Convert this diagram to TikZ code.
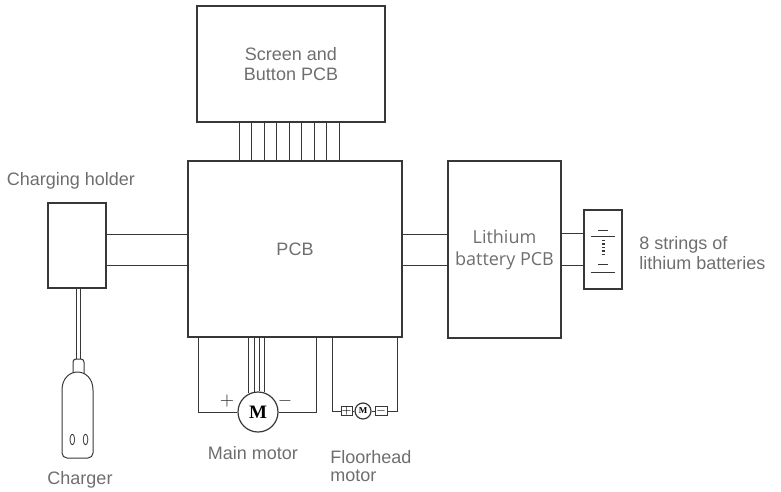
\documentclass[tikz,border=0pt]{standalone}
\usepackage{fontspec}
\setsansfont{Liberation Sans}
\newfontfamily\lithfont{Open Sans}
\newfontfamily\motorfont{Liberation Serif}
\usetikzlibrary{positioning}
\definecolor{linegray}{RGB}{55,55,55}
\definecolor{textgray}{RGB}{110,110,110}
\tikzstyle{box} = [rectangle, draw = linegray, line width = 0.6pt, inner sep = 0pt, text = textgray, font = \sffamily\fontsize{9}{10}\selectfont, align = center]
\tikzstyle{caption} = [text = textgray, font = \sffamily\fontsize{9}{10}\selectfont, align = center, inner sep = 0pt]
\tikzstyle{wire} = [draw = linegray, line width = 0.5pt]
\tikzstyle{motor} = [circle, draw = linegray, line width = 0.6pt, inner sep = 0pt, font = \motorfont\bfseries]
\tikzstyle{terminal} = [rectangle, draw = linegray, line width = 0.45pt, minimum height = 4pt, inner sep = 0pt, font = \fontsize{4}{4}\selectfont]

\begin{document}
\begin{tikzpicture}[x = 0.5pt, y = -0.5pt]
        \useasboundingbox (0,0) rectangle (781,492);
        % draw boxes
        \node[box, minimum width = 94pt, minimum height = 58pt] (screen) at (291,64) {Screen and\\Button PCB};
        \node[box, minimum width = 107pt, minimum height = 88pt] (pcb) at (295,249) {PCB};
        \node[box, minimum width = 29pt, minimum height = 42.5pt] (holder) at (77,245.5) {};
        \node[box, minimum width = 56.5pt, minimum height = 88.5pt, font = \lithfont\fontsize{9}{11}\selectfont] (lipcb) at (504.5,249.5) {Lithium\\battery PCB};
        \node[box, minimum width = 19pt, minimum height = 39.5pt] (bat) at (603,249.5) {};
        % draw motors
        \node[motor, minimum size = 20pt, font = \motorfont\bfseries\fontsize{9.5}{9.5}\selectfont] (mm) at (258,412) {M};
        \node[motor, minimum size = 8pt, font = \motorfont\bfseries\fontsize{4.5}{4.5}\selectfont] (fm) at (363,411) {M};
        \node[terminal, minimum width = 5.5pt] (fplus) at (346.5,411) {$+$};
        \node[terminal, minimum width = 6pt] (fminus) at (381,411) {$-$};
        % draw labels
        \node[caption] (holder label) at (71,181) {Charging holder};
        \node[caption] (charger label) at (80,480) {Charger};
        \node[caption] (mm label) at (253,453) {Main motor};
        \node[caption, anchor = west, align = left, font = \sffamily\fontsize{9}{9}\selectfont] (fm label) at (330,466) {Floorhead\\motor};
        \node[caption, anchor = west, align = left] (bat label) at (639,253.5) {8 strings of\\lithium batteries};
        \node[text = linegray, font = \fontsize{9}{9}\selectfont, inner sep = 0pt] (mm plus) at (227,401) {$+$};
        \node[text = linegray, font = \fontsize{9}{9}\selectfont, inner sep = 0pt] (mm minus) at (285,401) {$-$};

        % draw flat cable to screen board
        \foreach \i in {0,...,8}
            \draw[wire] ([xshift = -26pt + 6.25pt*\i]screen.south) -- ([xshift = -26pt + 6.25pt*\i]screen.south |- pcb.north);
        % draw pairs of wires
        \foreach \dy in {5.75pt, -9.75pt}
            \draw[wire] ([yshift = \dy]holder.east) -- ([yshift = \dy]holder.east -| pcb.west);
        \foreach \dy in {7.5pt, -8pt}
            \draw[wire] ([yshift = \dy]pcb.east) -- ([yshift = \dy]pcb.east -| lipcb.west);
        \foreach \dy in {8.25pt, -7.75pt}
            \draw[wire] ([yshift = \dy]lipcb.east) -- ([yshift = \dy]lipcb.east -| bat.west);

        % draw main motor wires
        \draw[wire] ([xshift = -48.5pt]pcb.south) |- (mm.west);
        \draw[wire] ([xshift = 10.5pt]pcb.south) |- (mm.east);
        \foreach \a in {116.7, 101.5, 87.1, 72.5}
            \draw[wire] (mm.\a) -- (mm.\a |- pcb.south);
        % draw floorhead motor wires
        \draw[wire] ([xshift = 18.5pt]pcb.south) |- (fplus.west);
        \draw[wire] ([xshift = 51pt]pcb.south) |- (fminus.east);
        \draw[wire] (fplus) -- (fm);
        \draw[wire] (fm) -- (fminus);

        % draw battery symbol
        \begin{scope}[shift = {(bat.center)}]
            \draw[wire] (-5,-19.5) -- (5,-19.5);
            \draw[wire] (-12,-13.5) -- (12,-13.5);
            \foreach \y in {-9,-5.5,...,8}
                \draw[wire, line width = 0.7pt] (-1.5,\y) -- (1.5,\y);
            \draw[wire] (-5,14.5) -- (5,14.5);
            \draw[wire] (-12,22.5) -- (12,22.5);
        \end{scope}

        % draw charger
        \coordinate (plug) at (78.5,359);
        \foreach \dx in {-2,2}
            \draw[wire] ([xshift = \dx*0.5pt]plug) -- ([xshift = \dx*0.5pt]plug |- holder.south);
        \draw[wire, rounded corners = 1.5pt] (73,373) -- (73,359) -- (84,359) -- (84,373);
        \draw[wire, rounded corners = 2.5pt] (62,390) -- (62,458) -- (93,458) -- (93,390);
        \draw[wire] (62,390) .. controls (62,378) and (70,372) .. (77.5,372) .. controls (85,372) and (93,378) .. (93,390);
        \node[text = linegray, font = \ttfamily\fontsize{9}{9}\selectfont, inner sep = 0pt, xscale = 0.7, transform shape] (charger dots) at (79,440) {0 0};
    \end{tikzpicture}
\end{document}
